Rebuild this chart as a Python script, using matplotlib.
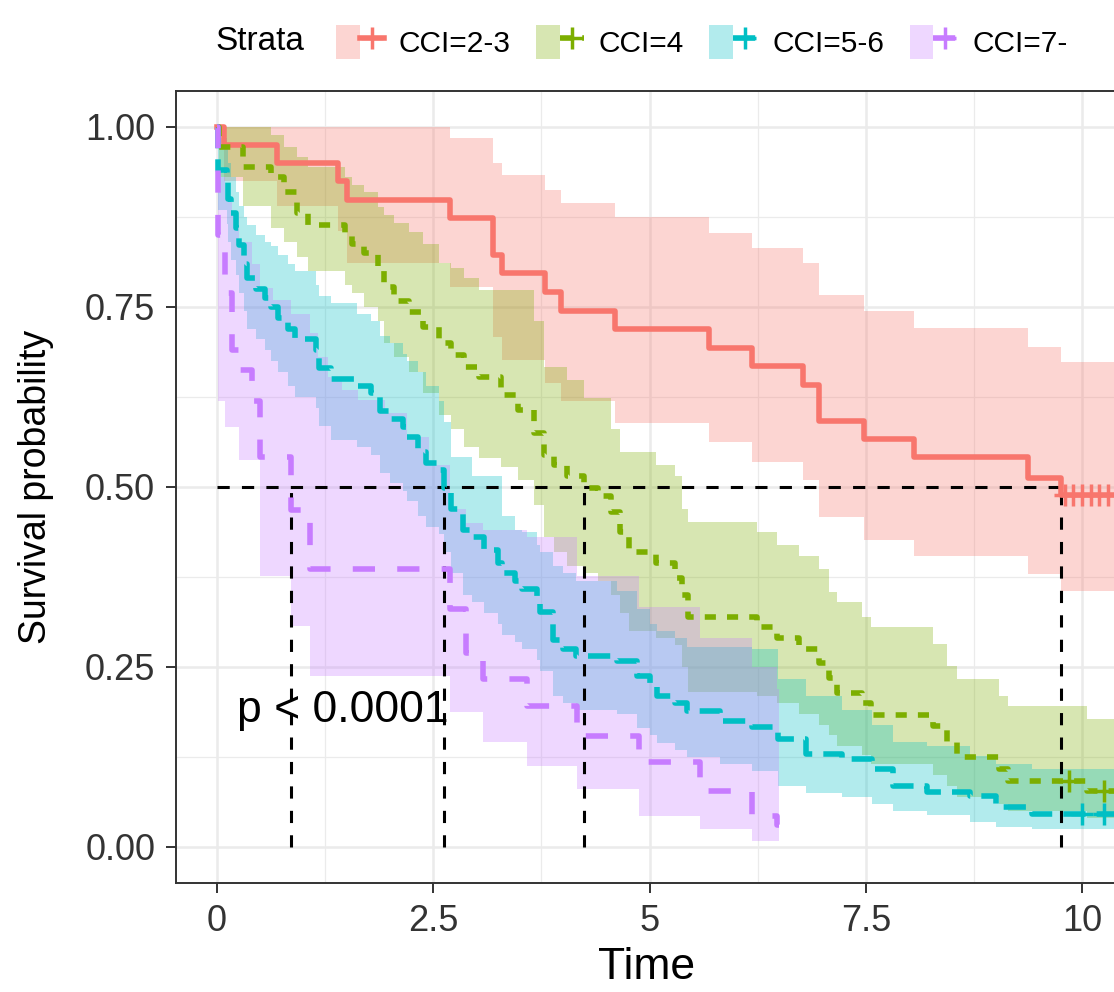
import matplotlib
matplotlib.use("Agg")
import matplotlib.pyplot as plt
from matplotlib.lines import Line2D
from matplotlib.patches import Patch
from matplotlib.legend_handler import HandlerTuple

plt.rcParams['font.family'] = ['Liberation Sans', 'DejaVu Sans']

# ---- data ----
strata = ["CCI=2-3", "CCI=4", "CCI=5-6", "CCI=7-"]
colors = ["#F8766D", "#7CAE00", "#00BFC4", "#C77CFF"]

red_t = [0, 0.08, 0.69, 1.40, 1.50, 2.69, 3.19, 3.29, 3.79, 3.98, 4.60, 5.69, 6.18, 6.77, 6.96, 7.48, 8.06, 9.37, 9.76]
red_s = [1.0, 0.975, 0.950, 0.925, 0.899, 0.874, 0.822, 0.797, 0.771, 0.745, 0.720, 0.693, 0.668, 0.642, 0.591, 0.566, 0.541, 0.513, 0.489]
red_hi = [1.0, 1.0, 1.0, 1.0, 1.0, 0.985, 0.950, 0.933, 0.913, 0.894, 0.875, 0.853, 0.832, 0.811, 0.767, 0.744, 0.721, 0.695, 0.673]
red_lo = [1.0, 0.925, 0.89, 0.855, 0.811, 0.778, 0.709, 0.677, 0.645, 0.620, 0.589, 0.563, 0.535, 0.510, 0.458, 0.427, 0.404, 0.379, 0.355]
red_cens = [9.80, 9.90, 10.00, 10.10, 10.20, 10.30]

green_t = [0, 0.02, 0.30, 0.62, 0.78, 0.92, 1.05, 1.48, 1.56, 1.70,
           1.86, 1.93, 2.05, 2.22, 2.38, 2.57, 2.70, 2.86, 3.03, 3.28,
           3.48, 3.67, 3.78, 3.90, 4.05, 4.24, 4.40, 4.56, 4.66, 4.76,
           5.08, 5.29, 5.37, 5.44, 6.24, 6.47, 6.73, 6.96, 7.08, 7.17,
           7.46, 7.56, 8.28, 8.44, 8.56, 9.04, 9.14, 10.06]
green_s = [1.0, 0.972, 0.944, 0.930, 0.910, 0.880, 0.864, 0.850, 0.838, 0.825,
           0.806, 0.778, 0.759, 0.743, 0.722, 0.700, 0.684, 0.667, 0.653, 0.628,
           0.607, 0.575, 0.545, 0.531, 0.515, 0.498, 0.487, 0.465, 0.437, 0.410,
           0.395, 0.374, 0.350, 0.320, 0.305, 0.290, 0.275, 0.255, 0.235, 0.214,
           0.200, 0.183, 0.168, 0.146, 0.125, 0.108, 0.092, 0.078]
green_hi = [1.0, 1.0, 1.0, 0.989, 0.972, 0.958, 0.945, 0.930, 0.920, 0.910,
            0.889, 0.878, 0.867, 0.854, 0.838, 0.811, 0.804, 0.790, 0.774, 0.774,
            0.774, 0.730, 0.667, 0.667, 0.649, 0.624, 0.624, 0.580, 0.548, 0.548,
            0.531, 0.515, 0.469, 0.452, 0.437, 0.420, 0.404, 0.386, 0.354, 0.340,
            0.320, 0.305, 0.282, 0.251, 0.233, 0.210, 0.196, 0.178]
green_lo = [1.0, 0.93, 0.89, 0.86, 0.84, 0.82, 0.80, 0.78, 0.77, 0.75,
            0.73, 0.70, 0.68, 0.66, 0.63, 0.60, 0.58, 0.555, 0.54, 0.528,
            0.51, 0.475, 0.43, 0.41, 0.39, 0.38, 0.37, 0.35, 0.325, 0.30,
            0.29, 0.28, 0.25, 0.215, 0.21, 0.20, 0.185, 0.17, 0.155, 0.14,
            0.128, 0.115, 0.10, 0.085, 0.07, 0.06, 0.05, 0.04]
green_cens = [9.85, 10.25]

cyan_t = [0, 0.01, 0.11, 0.13, 0.16, 0.22, 0.26, 0.31, 0.35, 0.45,
          0.55, 0.62, 0.70, 0.82, 0.90, 1.15, 1.18, 1.32, 1.62, 1.78,
          1.88, 2.00, 2.15, 2.20, 2.32, 2.42, 2.57, 2.63, 2.71, 2.84,
          2.95, 3.09, 3.25, 3.30, 3.45, 3.53, 3.70, 3.73, 3.88, 4.00,
          4.15, 4.62, 4.85, 5.00, 5.09, 5.30, 5.43, 5.81, 6.19, 6.48,
          6.81, 7.23, 7.57, 7.81, 8.21, 8.70, 9.00, 9.42]
cyan_s = [1.0, 0.94, 0.925, 0.90, 0.88, 0.86, 0.836, 0.81, 0.79, 0.775,
          0.763, 0.75, 0.735, 0.72, 0.705, 0.69, 0.665, 0.65, 0.64, 0.63,
          0.605, 0.594, 0.584, 0.57, 0.548, 0.534, 0.524, 0.498, 0.469, 0.44,
          0.431, 0.413, 0.395, 0.381, 0.37, 0.358, 0.34, 0.326, 0.288, 0.275,
          0.265, 0.258, 0.237, 0.222, 0.21, 0.20, 0.189, 0.175, 0.166, 0.15,
          0.129, 0.122, 0.108, 0.085, 0.076, 0.071, 0.055, 0.046]
cyan_hi = [1.0, 0.985, 0.97, 0.95, 0.93, 0.91, 0.89, 0.875, 0.864, 0.85,
           0.84, 0.835, 0.822, 0.81, 0.80, 0.78, 0.765, 0.755, 0.74, 0.73,
           0.71, 0.70, 0.685, 0.675, 0.66, 0.64, 0.62, 0.59, 0.542, 0.542,
           0.515, 0.515, 0.515, 0.46, 0.44, 0.437, 0.42, 0.41, 0.39, 0.38,
           0.37, 0.355, 0.33, 0.31, 0.30, 0.29, 0.278, 0.278, 0.275, 0.233,
           0.21, 0.19, 0.17, 0.146, 0.14, 0.126, 0.115, 0.108]
cyan_lo = [1.0, 0.885, 0.865, 0.84, 0.815, 0.795, 0.77, 0.745, 0.72, 0.705,
           0.69, 0.675, 0.66, 0.64, 0.625, 0.61, 0.585, 0.565, 0.555, 0.545,
           0.52, 0.505, 0.495, 0.48, 0.46, 0.445, 0.435, 0.41, 0.38, 0.35,
           0.34, 0.325, 0.31, 0.295, 0.285, 0.275, 0.26, 0.245, 0.21, 0.20,
           0.19, 0.185, 0.165, 0.155, 0.145, 0.135, 0.125, 0.115, 0.105, 0.085,
           0.075, 0.07, 0.06, 0.05, 0.045, 0.035, 0.028, 0.025]
cyan_cens = [10.00, 10.25]

purple_t = [0, 0.01, 0.09, 0.17, 0.25, 0.40, 0.50, 0.86, 1.07, 2.69, 2.88, 3.07, 3.58, 4.16, 4.88, 5.58, 6.19, 6.47]
purple_s = [1.0, 0.850, 0.770, 0.690, 0.663, 0.620, 0.541, 0.468, 0.386, 0.330, 0.270, 0.233, 0.196, 0.154, 0.118, 0.078, 0.043, 0.030]
# the purple band edges step at their own times in the picture
purple_band_t = [0, 0.01, 0.09, 0.17, 0.25, 0.40, 0.50, 0.65, 0.86, 1.07, 1.17, 1.28, 1.44, 1.63, 1.94,
                 2.20, 2.45, 2.69, 2.88, 3.07, 3.58, 4.16, 4.88, 5.58, 6.19, 6.47]
purple_hi = [1.0, 0.93, 0.90, 0.878, 0.84, 0.81, 0.777, 0.76, 0.74, 0.714, 0.68, 0.653, 0.635, 0.621, 0.603,
             0.57, 0.53, 0.47, 0.45, 0.44, 0.43, 0.376, 0.334, 0.29, 0.25, 0.22]
purple_lo = [1.0, 0.62, 0.584, 0.584, 0.538, 0.538, 0.376, 0.376, 0.307, 0.237, 0.237, 0.237, 0.237, 0.237, 0.237,
             0.237, 0.237, 0.187, 0.187, 0.146, 0.112, 0.08, 0.043, 0.025, 0.008, 0.008]
purple_end = 6.50

medians = [0.86, 2.63, 4.24, 9.76]
x_end = 10.4

fig = plt.figure(figsize=(11.14, 9.92), dpi=100)
ax = fig.add_axes([176 / 1114, 1 - 883 / 992, (217 + x_end * 86.5 - 176) / 1114, 792 / 992])


def ext(t, v, end):
    # carry the last value out to the end time for a post step
    return list(t) + [end], list(v) + [v[-1]]


# confidence bands
bands = [(red_t, red_lo, red_hi, x_end),
         (green_t, green_lo, green_hi, x_end),
         (cyan_t, cyan_lo, cyan_hi, x_end),
         (purple_band_t, purple_lo, purple_hi, purple_end)]
for (t, lo, hi, end), c in zip(bands, colors):
    tt, ll = ext(t, lo, end)
    _, hh = ext(t, hi, end)
    ax.fill_between(tt, ll, hh, step='post', color=c, alpha=0.3, linewidth=0, zorder=2)

# median lines
ax.plot([0, max(medians)], [0.5, 0.5], color='black', lw=2.2, dashes=(4, 4), zorder=3)
for m in medians:
    ax.plot([m, m], [0, 0.5], color='black', lw=2.2, dashes=(4, 4), zorder=3)

# survival curves
styles = [None, (2, 2), (4, 2), (4, 4)]
curves = [(red_t, red_s, x_end, red_cens),
          (green_t, green_s, x_end, green_cens),
          (cyan_t, cyan_s, x_end, cyan_cens),
          (purple_t, purple_s, purple_end, [])]
for (t, s, end, cens), c, d in zip(curves, colors, styles):
    tt, ss = ext(t, s, end)
    line, = ax.step(tt, ss, where='post', color=c, lw=4, zorder=4)
    if d is not None:
        line.set_dashes(d)
    if cens:
        # censor marks sit on the curve value at that time
        cy = [s[max(i for i, v in enumerate(t) if v <= ct)] for ct in cens]
        ax.plot(cens, cy, ls='none', marker='+', ms=16, mew=2.5, color=c, zorder=5)

ax.text(0.23, 0.19, "p < 0.0001", fontsize=32, ha='left', va='center', zorder=6)

# axes styling (theme_bw look)
ax.set_xlim(-0.474, x_end)
ax.set_ylim(-0.05, 1.05)
ax.set_xticks([0, 2.5, 5, 7.5, 10])
ax.set_xticklabels(["0", "2.5", "5", "7.5", "10"])
ax.set_yticks([0, 0.25, 0.5, 0.75, 1.0])
ax.set_yticklabels(["0.00", "0.25", "0.50", "0.75", "1.00"])
ax.set_xticks([1.25, 3.75, 6.25, 8.75], minor=True)
ax.set_yticks([0.125, 0.375, 0.625, 0.875], minor=True)
ax.grid(which='major', color='#EBEBEB', lw=1.8)
ax.grid(which='minor', color='#EBEBEB', lw=0.9)
ax.set_axisbelow(True)
ax.tick_params(which='major', length=7, width=1.4, color='#333333', labelsize=26,
               labelcolor='#333333', pad=8)
ax.tick_params(which='minor', length=0)
for sp in ax.spines.values():
    sp.set_color('#333333')
    sp.set_linewidth(1.4)
ax.set_xlabel("Time", fontsize=32, labelpad=6)
ax.set_ylabel("Survival probability", fontsize=27, labelpad=22)

# legend across the top
handles = []
for c, d in zip(colors, styles):
    ln = Line2D([], [], color=c, lw=4, marker='+', ms=16, mew=2.5)
    if d is not None:
        ln.set_dashes(d)
    handles.append((Patch(facecolor=c, alpha=0.3, linewidth=0), ln))
fig.text(215 / 1114, 1 - 42 / 992, "Strata", fontsize=24, ha='left', va='center')
fig.legend(handles, strata, loc='center left', bbox_to_anchor=(336 / 1114, 1 - 42 / 992),
           ncol=4, frameon=False, fontsize=21.5, handlelength=1.6, handleheight=1.4,
           handletextpad=0.5, columnspacing=0.85, borderpad=0, borderaxespad=0,
           handler_map={tuple: HandlerTuple(ndivide=None, pad=0)})

fig.savefig("out.png", dpi=100)
